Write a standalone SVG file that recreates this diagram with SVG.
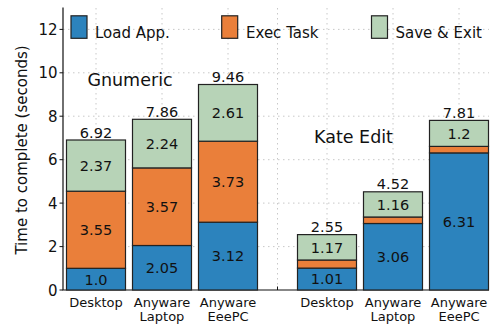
<svg xmlns="http://www.w3.org/2000/svg" width="492" height="324" viewBox="0 0 492 324">
<style>
text{font-family:"DejaVu Sans",sans-serif;fill:#111}
.grid{stroke:#c8c8c8;stroke-width:1;stroke-dasharray:1.5 3.5;fill:none}
.axis{stroke:#111;stroke-width:1.2;fill:none}
.tick{stroke:#111;stroke-width:1}
.b{fill:#2c83bd;stroke:#222;stroke-width:1.2}
.o{fill:#ea7f3a;stroke:#222;stroke-width:1.2}
.g{fill:#b7d3b7;stroke:#222;stroke-width:1.2}
.v{font-size:14.5px;text-anchor:middle}
.yt{font-size:15px;text-anchor:end}
.xt{font-size:13px;text-anchor:middle}
.lg{font-size:15px}
.grp{font-size:17.5px;text-anchor:middle}
</style>
<rect width="492" height="324" fill="#fff"/>
<g id="grid">
<path class="grid" d="M63 246.6H489M63 203.1H489M63 159.7H489M63 116.2H489M63 72.8H489M63 29.4H489"/>
<path class="grid" d="M96 8V290M162 8V290M228 8V290M277.5 8V290M327 8V290M393 8V290M459 8V290"/>
</g>
<g id="axes">
<path class="axis" d="M63 7.6V290H489"/>
<path class="tick" d="M59.5 290H63M59.5 246.6H63M59.5 203.1H63M59.5 159.7H63M59.5 116.2H63M59.5 72.8H63M59.5 29.4H63"/>
<path class="tick" d="M96 290V286.5M162 290V286.5M228 290V286.5M277.5 290V286.5M327 290V286.5M393 290V286.5M459 290V286.5"/>
<text class="yt" x="57.5" y="295.5">0</text>
<text class="yt" x="57.5" y="252.1">2</text>
<text class="yt" x="57.5" y="208.6">4</text>
<text class="yt" x="57.5" y="165.2">6</text>
<text class="yt" x="57.5" y="121.7">8</text>
<text class="yt" x="57.5" y="78.3">10</text>
<text class="yt" x="57.5" y="34.9">12</text>
<text font-size="15px" text-anchor="middle" transform="translate(26.5 150) rotate(-90)">Time to complete (seconds)</text>
<text class="xt" x="96" y="307">Desktop</text>
<text class="xt" x="162" y="307">Anyware</text>
<text class="xt" x="162" y="321">Laptop</text>
<text class="xt" x="228" y="307">Anyware</text>
<text class="xt" x="228" y="321">EeePC</text>
<text class="xt" x="327" y="307">Desktop</text>
<text class="xt" x="393" y="307">Anyware</text>
<text class="xt" x="393" y="321">Laptop</text>
<text class="xt" x="459" y="307">Anyware</text>
<text class="xt" x="459" y="321">EeePC</text>
</g>
<g id="bar-gnumeric-desktop">
<rect class="b" x="66.5" y="268.3" width="59" height="21.7"/>
<rect class="o" x="66.5" y="191.2" width="59" height="77.1"/>
<rect class="g" x="66.5" y="140" width="59" height="51.2"/>
<text class="v" x="96" y="284.5">1.0</text>
<text class="v" x="96" y="235.1">3.55</text>
<text class="v" x="96" y="170.9">2.37</text>
<text class="v" x="96" y="137.5">6.92</text>
</g>
<g id="bar-gnumeric-laptop">
<rect class="b" x="132.5" y="245.5" width="59" height="44.5"/>
<rect class="o" x="132.5" y="167.9" width="59" height="77.6"/>
<rect class="g" x="132.5" y="119.3" width="59" height="48.6"/>
<text class="v" x="162" y="273.1">2.05</text>
<text class="v" x="162" y="212">3.57</text>
<text class="v" x="162" y="148.9">2.24</text>
<text class="v" x="162" y="116.8">7.86</text>
</g>
<g id="bar-gnumeric-eeepc">
<rect class="b" x="198.5" y="222.2" width="59" height="67.8"/>
<rect class="o" x="198.5" y="141.2" width="59" height="81"/>
<rect class="g" x="198.5" y="84.5" width="59" height="56.7"/>
<text class="v" x="228" y="261.4">3.12</text>
<text class="v" x="228" y="187">3.73</text>
<text class="v" x="228" y="118.2">2.61</text>
<text class="v" x="228" y="82">9.46</text>
</g>
<g id="bar-kate-desktop">
<rect class="b" x="297.5" y="268.1" width="59" height="21.9"/>
<rect class="o" x="297.5" y="260" width="59" height="8.1"/>
<rect class="g" x="297.5" y="234.6" width="59" height="25.4"/>
<text class="v" x="327" y="284.3">1.01</text>
<text class="v" x="327" y="252.6">1.17</text>
<text class="v" x="327" y="232">2.55</text>
</g>
<g id="bar-kate-laptop">
<rect class="b" x="363.5" y="223.5" width="59" height="66.5"/>
<rect class="o" x="363.5" y="217" width="59" height="6.5"/>
<rect class="g" x="363.5" y="191.8" width="59" height="25.2"/>
<text class="v" x="393" y="262.1">3.06</text>
<text class="v" x="393" y="209.7">1.16</text>
<text class="v" x="393" y="189.3">4.52</text>
</g>
<g id="bar-kate-eeepc">
<rect class="b" x="429.5" y="152.9" width="59" height="137.1"/>
<rect class="o" x="429.5" y="146.4" width="59" height="6.5"/>
<rect class="g" x="429.5" y="120.4" width="59" height="26"/>
<text class="v" x="459" y="226.8">6.31</text>
<text class="v" x="459" y="138.7">1.2</text>
<text class="v" x="459" y="118">7.81</text>
</g>
<g id="group-labels">
<text class="grp" x="130" y="85.5">Gnumeric</text>
<text class="grp" x="353.5" y="143">Kate Edit</text>
</g>
<g id="legend">
<rect class="b" x="71" y="15.8" width="16" height="22.5"/>
<text class="lg" x="95" y="37.5">Load App.</text>
<rect class="o" x="221.7" y="15.8" width="16" height="22.5"/>
<text class="lg" x="246" y="37.5">Exec Task</text>
<rect class="g" x="371.5" y="15.8" width="16" height="22.5"/>
<text class="lg" x="395.5" y="37.5">Save &amp; Exit</text>
</g>
</svg>
